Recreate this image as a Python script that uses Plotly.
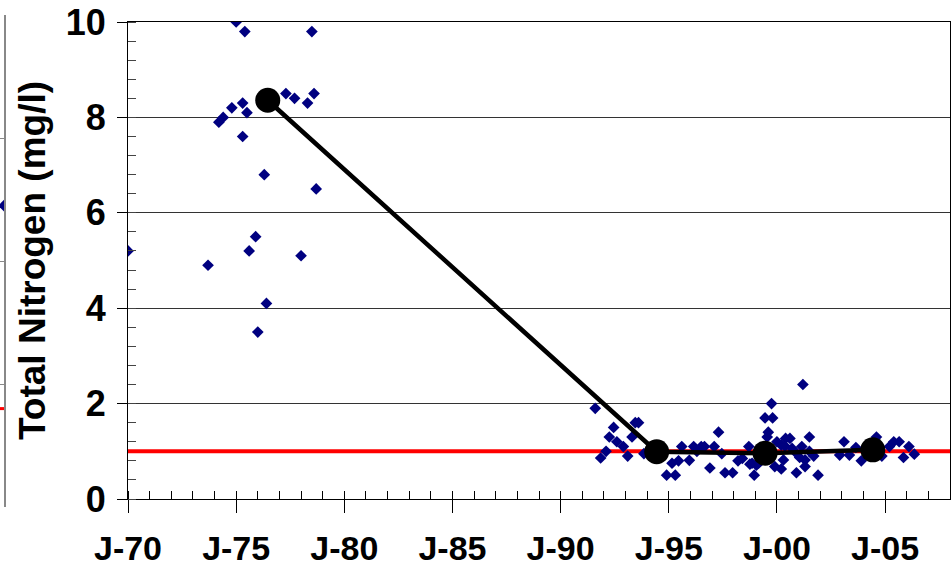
import plotly.graph_objects as go

# sample dates (decimal years) and total nitrogen (mg/l)
years_70s = [1970.0, 1973.7, 1974.2, 1974.4, 1974.8, 1975.0, 1975.3, 1975.3, 1975.4, 1975.5, 1975.6,
             1975.9, 1976.0, 1976.3, 1976.4, 1977.3, 1977.7, 1978.0, 1978.3, 1978.5, 1978.6, 1978.7]
tn_70s = [5.2, 4.9, 7.9, 8.0, 8.2, 10.0, 8.3, 7.6, 9.8, 8.1, 5.2,
          5.5, 3.5, 6.8, 4.1, 8.5, 8.4, 5.1, 8.3, 9.8, 8.5, 6.5]

years_90s = [1991.6, 1991.85, 1992.1, 1992.25, 1992.45, 1992.6, 1992.9, 1993.1, 1993.3, 1993.45, 1993.6,
             1993.85, 1994.9, 1995.15, 1995.3, 1995.45, 1995.6, 1995.95, 1996.15, 1996.3, 1996.5, 1996.65,
             1996.9, 1997.1, 1997.3, 1997.45, 1997.6, 1997.95, 1998.2, 1998.4, 1998.7, 1998.75, 1998.85,
             1998.95, 1999.05, 1999.15, 1999.45, 1999.8, 1999.6, 1999.55, 1999.75, 1999.9, 2000.0, 2000.2,
             2000.2, 2000.3, 2000.4, 2000.37, 2000.6, 2000.7, 2000.9, 2000.9, 2001.05, 2001.15, 2001.2,
             2001.3, 2001.3, 2001.5, 2001.5, 2001.7, 2001.9, 2002.9, 2003.1, 2003.35, 2003.65, 2003.9,
             2004.6, 2004.85, 2005.2, 2005.4, 2005.65, 2005.85, 2006.1, 2006.35]
tn_90s = [1.9, 0.86, 1.0, 1.3, 1.5, 1.2, 1.1, 0.9, 1.3, 1.6, 1.6,
          0.95, 0.5, 0.75, 0.5, 0.8, 1.1, 0.81, 1.1, 1.0, 1.1, 1.1,
          0.65, 1.1, 1.4, 0.95, 0.55, 0.55, 0.8, 0.85, 1.1, 0.73, 0.75,
          0.5, 0.71, 0.75, 1.7, 1.7, 1.4, 1.3, 2.0, 0.68, 1.2, 1.13,
          0.63, 0.82, 1.27, 1.11, 1.27, 1.06, 0.96, 0.55, 0.87, 1.1, 2.4,
          0.82, 0.68, 1.3, 1.0, 0.9, 0.5, 0.92, 1.2, 0.92, 1.08, 0.8,
          1.3, 0.9, 1.1, 1.2, 1.2, 0.87, 1.1, 0.94]

# period means
mean_years = [1976.46, 1994.44, 1999.45, 2004.43]
mean_tn = [8.36, 0.99, 0.96, 1.03]

target = 1.0
tick_years = [1970, 1975, 1980, 1985, 1990, 1995, 2000, 2005]
tick_text = ["J-70", "J-75", "J-80", "J-85", "J-90", "J-95", "J-00", "J-05"]

# edge of the neighbouring chart (cut off at the left)
nb_point = 4.9
nb_target = 1.6

W, H = 951, 569
bold = dict(family="Liberation Sans, Arial", color="black", weight="bold")

fig = go.Figure()
fig.add_trace(go.Scatter(x=[1970, 2008], y=[target, target], mode="lines",
                         line=dict(color="red", width=4), hoverinfo="skip"))
fig.add_trace(go.Scatter(x=years_70s + years_90s, y=tn_70s + tn_90s, mode="markers",
                         marker=dict(symbol="diamond", size=9, color="#000080")))
fig.add_trace(go.Scatter(x=mean_years, y=mean_tn, mode="lines+markers",
                         line=dict(color="black", width=4.5),
                         marker=dict(size=25, color="black")))

# neighbour fragment
fig.add_trace(go.Scatter(x=[0, 1], y=[nb_target, nb_target], mode="lines",
                         line=dict(color="red", width=3), xaxis="x2", yaxis="y2"))
fig.add_trace(go.Scatter(x=[1], y=[nb_point], mode="markers",
                         marker=dict(symbol="diamond", size=9, color="#000080"),
                         xaxis="x2", yaxis="y2"))

ybot, ytop = 499, 22
top_m, bot_m = 15, 62
area = H - top_m - bot_m

fig.update_layout(
    width=W, height=H,
    margin=dict(l=0, r=0, t=top_m, b=bot_m),
    paper_bgcolor="white", plot_bgcolor="white",
    showlegend=False,
    xaxis=dict(domain=[128 / W, 950 / W], range=[1970, 2008],
               tickvals=tick_years, ticktext=tick_text,
               ticks="outside", ticklen=13, tickcolor="black", tickwidth=1,
               minor=dict(dtick=1, ticks="inside", ticklen=8, tickcolor="black", showgrid=False),
               showgrid=False, zeroline=False,
               showline=True, linecolor="black", linewidth=1, mirror=True,
               tickfont=dict(size=34, **bold), ticklabelstandoff=6,
               automargin=False, anchor="y"),
    yaxis=dict(domain=[(H - bot_m - ybot) / area, (H - bot_m - ytop) / area],
               range=[0, 10], dtick=2,
               ticks="outside", ticklen=10, tickcolor="black",
               minor=dict(dtick=0.4, ticks="inside", ticklen=8, tickcolor="#444", showgrid=False),
               showgrid=True, gridcolor="#333", gridwidth=1, zeroline=False,
               showline=True, linecolor="black", linewidth=1, mirror=True,
               tickfont=dict(size=36, **bold), ticklabelstandoff=4,
               title=dict(text="Total Nitrogen (mg/l)", font=dict(size=37, **bold), standoff=8),
               automargin=False, anchor="x"),
    xaxis2=dict(domain=[0, 4 / W], range=[0, 1], visible=False, anchor="y2"),
    yaxis2=dict(domain=[0, 1], range=[0, 8], dtick=2, side="right", anchor="x2",
                showline=True, linecolor="#888", linewidth=2,
                ticks="inside", ticklen=4, tickcolor="#888",
                showticklabels=False, showgrid=False, zeroline=False),
)

# the page's default 8px body margin would shift the chart
fig.write_html("out.html", config={"displayModeBar": False},
               post_script="document.body.style.margin='0';")
